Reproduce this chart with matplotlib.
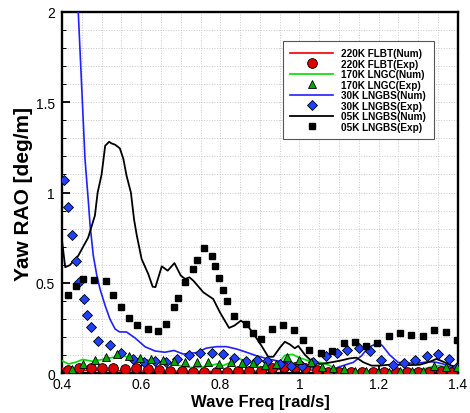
import matplotlib
matplotlib.use("Agg")
import matplotlib.pyplot as plt
from matplotlib.ticker import MultipleLocator, FixedLocator

plt.rcParams['font.family'] = ['Liberation Sans', 'DejaVu Sans']

# 220K FLBT
flbt_num_x = [0.40, 0.45, 0.55, 0.65, 0.80, 0.90, 0.95, 1.00, 1.10, 1.20, 1.30, 1.40]
flbt_num_y = [0.025, 0.015, 0.012, 0.010, 0.008, 0.010, 0.020, 0.020, 0.008, 0.005, 0.008, 0.010]
flbt_exp_x = [0.416, 0.444, 0.473, 0.502, 0.530, 0.559, 0.588, 0.616, 0.645, 0.674, 0.703, 0.732,
              0.759, 0.788, 0.816, 0.844, 0.873, 0.902, 0.931, 0.960, 0.988, 1.015, 1.043, 1.072,
              1.100, 1.129, 1.157, 1.186, 1.214, 1.243, 1.271, 1.300, 1.328, 1.357, 1.385]
flbt_exp_y = [0.018, 0.028, 0.028, 0.026, 0.026, 0.024, 0.026, 0.022, 0.018, 0.013, 0.010, 0.008,
              0.008, 0.005, 0.008, 0.013, 0.013, 0.010, 0.028, 0.035, 0.036, 0.025, 0.018, 0.008,
              0.005, 0.005, 0.005, 0.003, 0.008, 0.005, 0.008, 0.008, 0.008, 0.012, 0.008]

# 170K LNGC
lngc_num_x = [0.400, 0.416, 0.435, 0.452, 0.477, 0.502, 0.536, 0.559, 0.582, 0.616, 0.650, 0.673,
              0.698, 0.723, 0.748, 0.774, 0.791, 0.807, 0.833, 0.849, 0.875, 0.900, 0.925, 0.945,
              0.963, 0.982, 1.001, 1.026, 1.052, 1.077, 1.094, 1.127, 1.170, 1.211, 1.254, 1.296,
              1.329, 1.354, 1.380, 1.397]
lngc_num_y = [0.068, 0.050, 0.060, 0.075, 0.065, 0.075, 0.090, 0.093, 0.078, 0.072, 0.060, 0.050,
              0.041, 0.031, 0.031, 0.041, 0.050, 0.041, 0.065, 0.078, 0.059, 0.031, 0.025, 0.050,
              0.098, 0.103, 0.084, 0.065, 0.059, 0.041, 0.018, 0.013, 0.010, 0.007, 0.016, 0.013,
              0.031, 0.041, 0.026, 0.022]
lngc_exp_x = [0.426, 0.454, 0.483, 0.511, 0.540, 0.568, 0.597, 0.626, 0.654, 0.683, 0.711, 0.740,
              0.769, 0.797, 0.827, 0.855, 0.883, 0.912, 0.940, 0.969, 0.998, 1.029, 1.056, 1.084,
              1.112, 1.141, 1.169, 1.199, 1.225, 1.255, 1.284, 1.312, 1.340, 1.370, 1.397]
lngc_exp_y = [0.022, 0.052, 0.072, 0.090, 0.105, 0.096, 0.085, 0.078, 0.072, 0.068, 0.061, 0.059,
              0.059, 0.052, 0.063, 0.054, 0.054, 0.044, 0.050, 0.090, 0.070, 0.063, 0.032, 0.030,
              0.020, 0.013, 0.011, 0.007, 0.007, 0.013, 0.011, 0.013, 0.037, 0.031, 0.035]

# 30K LNGBS
b30_num_x = [0.400, 0.441, 0.458, 0.466, 0.471, 0.479, 0.488, 0.496, 0.509, 0.521, 0.534, 0.545,
             0.563, 0.584, 0.610, 0.635, 0.660, 0.683, 0.706, 0.740, 0.765, 0.791, 0.816, 0.841,
             0.866, 0.892, 0.917, 0.942, 0.967, 1.001, 1.026, 1.052, 1.085, 1.110, 1.136, 1.157,
             1.174, 1.200, 1.210, 1.228, 1.249, 1.275, 1.300, 1.329, 1.346, 1.363, 1.388, 1.397]
b30_num_y = [3.800, 2.000, 1.186, 0.964, 0.816, 0.650, 0.539, 0.465, 0.373, 0.299, 0.244, 0.228,
             0.227, 0.195, 0.145, 0.122, 0.115, 0.125, 0.105, 0.113, 0.138, 0.146, 0.146, 0.133,
             0.115, 0.095, 0.080, 0.068, 0.059, 0.041, 0.031, 0.022, 0.022, 0.041, 0.059, 0.096,
             0.142, 0.168, 0.150, 0.100, 0.059, 0.055, 0.055, 0.063, 0.059, 0.050, 0.026, 0.022]
b30_exp_x = [0.406, 0.416, 0.426, 0.435, 0.444, 0.455, 0.464, 0.473, 0.492, 0.522, 0.550, 0.579,
             0.606, 0.635, 0.663, 0.691, 0.721, 0.749, 0.778, 0.807, 0.835, 0.864, 0.892, 0.918,
             0.951, 0.978, 1.007, 1.035, 1.068, 1.094, 1.121, 1.150, 1.177, 1.207, 1.236, 1.264,
             1.292, 1.321, 1.349, 1.378, 1.397]
b30_exp_y = [1.069, 0.921, 0.763, 0.622, 0.506, 0.410, 0.323, 0.257, 0.179, 0.155, 0.112, 0.076,
             0.061, 0.066, 0.063, 0.079, 0.100, 0.109, 0.111, 0.107, 0.085, 0.066, 0.072, 0.066,
             0.048, 0.037, 0.041, 0.063, 0.095, 0.109, 0.127, 0.137, 0.122, 0.073, 0.045, 0.056,
             0.071, 0.094, 0.103, 0.078, 0.032]

# 05K LNGBS
b05_num_x = [0.400, 0.408, 0.420, 0.441, 0.466, 0.483, 0.490, 0.500, 0.509, 0.519, 0.525, 0.534,
             0.546, 0.555, 0.563, 0.574, 0.582, 0.589, 0.601, 0.618, 0.629, 0.636, 0.652, 0.667,
             0.684, 0.700, 0.711, 0.722, 0.732, 0.757, 0.782, 0.799, 0.822, 0.835, 0.852, 0.868,
             0.887, 0.904, 0.921, 0.934, 0.951, 0.963, 0.976, 0.988, 0.997, 1.014, 1.035, 1.052,
             1.077, 1.102, 1.127, 1.144, 1.161, 1.182, 1.203, 1.228, 1.254, 1.279, 1.304, 1.329,
             1.346, 1.363, 1.384, 1.397]
b05_num_y = [0.733, 0.586, 0.598, 0.650, 0.750, 0.872, 1.000, 1.100, 1.259, 1.281, 1.272, 1.265,
             1.245, 1.186, 1.093, 1.000, 0.850, 0.761, 0.632, 0.548, 0.478, 0.476, 0.591, 0.567,
             0.609, 0.540, 0.521, 0.530, 0.511, 0.447, 0.410, 0.336, 0.250, 0.262, 0.290, 0.265,
             0.207, 0.151, 0.090, 0.090, 0.142, 0.173, 0.158, 0.137, 0.150, 0.100, 0.057, 0.050,
             0.058, 0.068, 0.081, 0.085, 0.060, 0.041, 0.041, 0.046, 0.046, 0.044, 0.046, 0.062,
             0.078, 0.063, 0.041, 0.032]
b05_exp_x = [0.416, 0.435, 0.454, 0.482, 0.511, 0.530, 0.549, 0.568, 0.589, 0.616, 0.643, 0.663,
             0.683, 0.692, 0.711, 0.730, 0.740, 0.759, 0.779, 0.787, 0.797, 0.806, 0.817, 0.835,
             0.864, 0.883, 0.902, 0.930, 0.958, 0.987, 1.008, 1.025, 1.054, 1.083, 1.112, 1.140,
             1.168, 1.197, 1.227, 1.254, 1.283, 1.311, 1.339, 1.369, 1.397]
b05_exp_y = [0.430, 0.480, 0.520, 0.515, 0.510, 0.434, 0.366, 0.305, 0.266, 0.244, 0.233, 0.271,
             0.366, 0.417, 0.506, 0.575, 0.624, 0.693, 0.650, 0.593, 0.528, 0.460, 0.397, 0.316,
             0.273, 0.220, 0.187, 0.245, 0.264, 0.240, 0.183, 0.127, 0.112, 0.120, 0.165, 0.170,
             0.148, 0.166, 0.205, 0.223, 0.211, 0.207, 0.238, 0.225, 0.181]

x_ticks = [0.4, 0.6, 0.8, 1.0, 1.2, 1.4]
x_tick_labels = ['0.4', '0.6', '0.8', '1', '1.2', '1.4']
y_ticks = [0, 0.5, 1.0, 1.5, 2.0]
y_tick_labels = ['0', '0.5', '1', '1.5', '2']

fig = plt.figure(figsize=(4.7, 4.14), dpi=100)
ax = fig.add_axes([0.132, 0.0966, 0.842, 0.872])

ax.plot(flbt_num_x, flbt_num_y, color='#ee0000', lw=1.2, label='220K FLBT(Num)', zorder=3)
ax.plot(flbt_exp_x, flbt_exp_y, ls='none', marker='o', ms=7, mfc='#dd0000', mec='black',
        mew=0.6, label='220K FLBT(Exp)', zorder=5)
ax.plot(lngc_num_x, lngc_num_y, color='#00dd00', lw=1.2, label='170K LNGC(Num)', zorder=3)
ax.plot(lngc_exp_x, lngc_exp_y, ls='none', marker='^', ms=5.5, mfc='#00aa00', mec='black',
        mew=0.6, label='170K LNGC(Exp)', zorder=6)
ax.plot(b30_num_x, b30_num_y, color='#2020ff', lw=1.2, label='30K LNGBS(Num)', zorder=3)
ax.plot(b30_exp_x, b30_exp_y, ls='none', marker='D', ms=5.5, mfc='#2040ff', mec='black',
        mew=0.6, label='30K LNGBS(Exp)', zorder=5)
ax.plot(b05_num_x, b05_num_y, color='black', lw=1.3, label='05K LNGBS(Num)', zorder=4)
ax.plot(b05_exp_x, b05_exp_y, ls='none', marker='s', ms=4.8, mfc='black', mec='black',
        label='05K LNGBS(Exp)', zorder=5)

ax.set_xlim(0.4, 1.4)
ax.set_ylim(0, 2)
ax.xaxis.set_major_locator(FixedLocator(x_ticks))
ax.set_xticklabels(x_tick_labels)
ax.yaxis.set_major_locator(FixedLocator(y_ticks))
ax.set_yticklabels(y_tick_labels)
ax.xaxis.set_minor_locator(MultipleLocator(0.05))
ax.yaxis.set_minor_locator(MultipleLocator(0.1))
ax.grid(True, which='both', color='#c8c8c8', ls=':', lw=0.7, zorder=0)
ax.set_axisbelow(True)
ax.tick_params(which='major', direction='in', length=6, width=1.3, labelsize=10)
ax.tick_params(axis='y', which='major', pad=5)
ax.tick_params(axis='x', which='major', pad=3)
ax.tick_params(which='minor', direction='in', length=3, width=0.7)
for s in ax.spines.values():
    s.set_linewidth(1.7)

ax.set_xlabel('Wave Freq [rad/s]', fontsize=12, fontweight='bold', labelpad=2)
ax.set_ylabel('Yaw RAO [deg/m]', fontsize=15, fontweight='bold', labelpad=2)

leg = ax.legend(loc='upper left', bbox_to_anchor=(0.558, 0.92), borderaxespad=0,
                prop={'weight': 'bold', 'size': 7.2}, handlelength=4.3, labelspacing=0.05,
                fancybox=False, edgecolor='#555555', framealpha=1, borderpad=0.75,
                handletextpad=0.8, numpoints=1)
leg.get_frame().set_linewidth(0.8)

fig.savefig('out.png', dpi=100)
